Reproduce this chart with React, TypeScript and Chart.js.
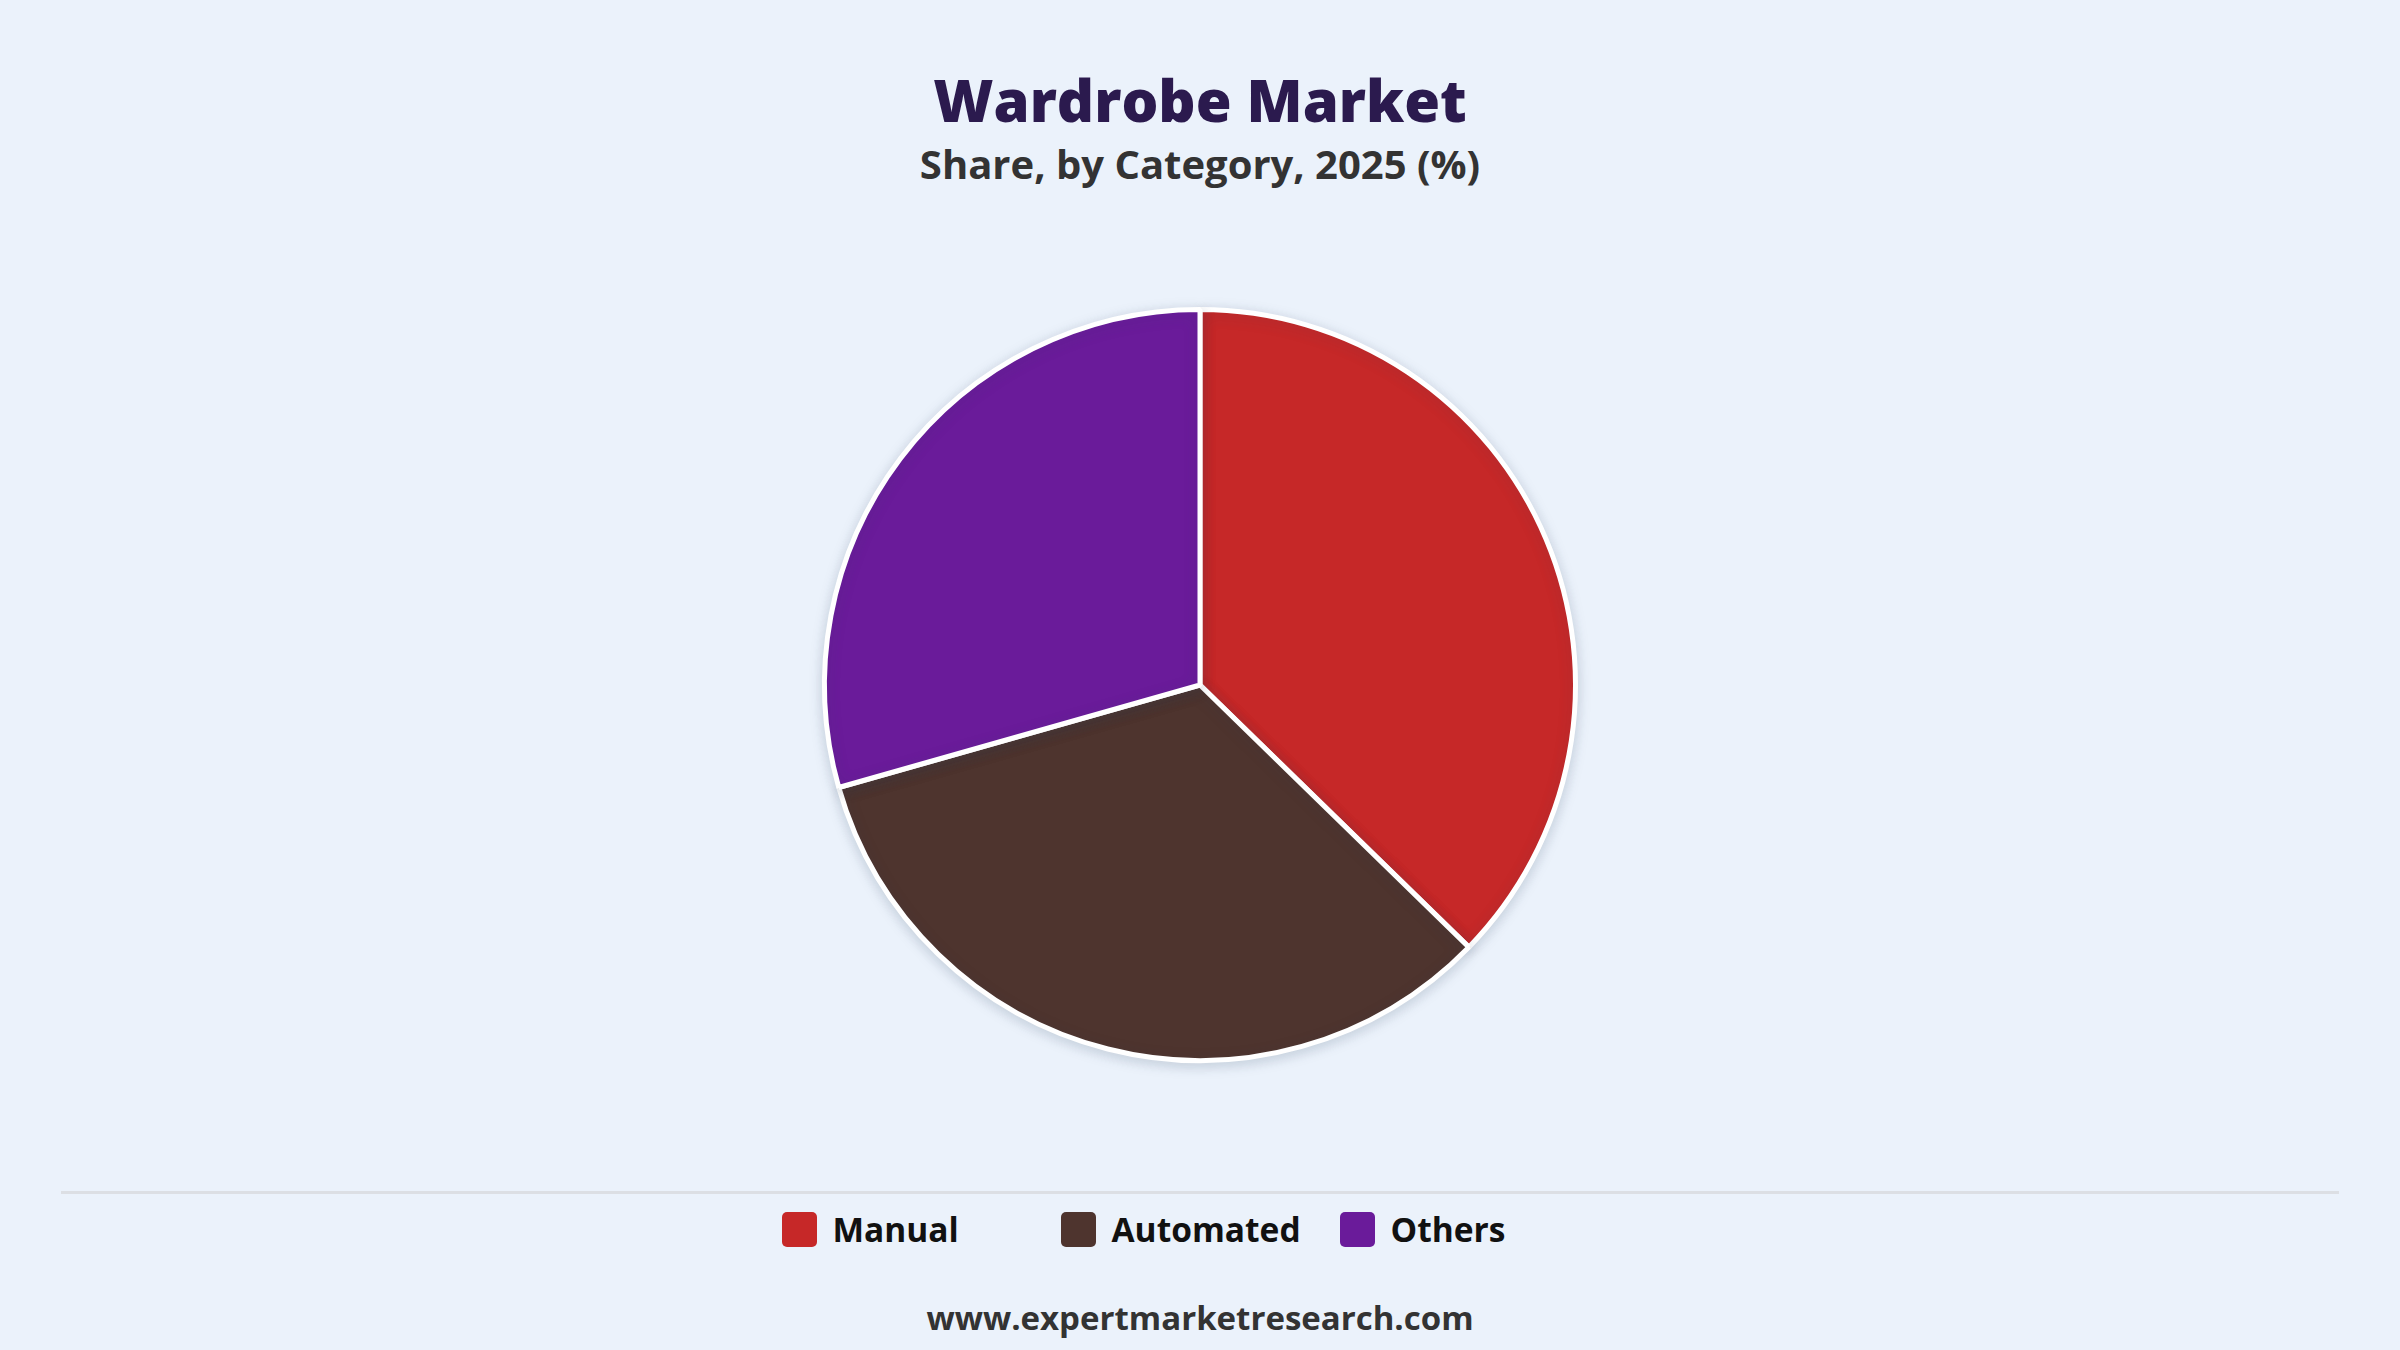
import { useEffect, useRef } from 'react'
import { Chart, registerables, Plugin } from 'chart.js'

Chart.register(...registerables)

const categories = ['Manual', 'Automated', 'Others']
const shares = [37.3, 33.3, 29.4]
const colors = ['#C62828', '#4E342E', '#6A1B9A']

const title = 'Wardrobe Market'
const subtitle = 'Share, by Category, 2025 (%)'
const source = 'www.expertmarketresearch.com'

const FONT = "'Open Sans', 'Noto Sans', sans-serif"

// soft drop shadow under the pie
const shadowPlugin: Plugin<'pie'> = {
  id: 'pieShadow',
  beforeDatasetDraw(chart) {
    const ctx = chart.ctx
    ctx.save()
    ctx.shadowColor = 'rgba(40, 60, 90, 0.18)'
    ctx.shadowBlur = 14
    ctx.shadowOffsetY = 3
  },
  afterDatasetDraw(chart) {
    chart.ctx.restore()
  },
}

function PieChart() {
  const chartRef = useRef<HTMLCanvasElement>(null)
  const chartInstance = useRef<Chart<'pie'> | null>(null)

  useEffect(() => {
    if (!chartRef.current) return
    const ctx = chartRef.current.getContext('2d')
    if (!ctx) return

    if (chartInstance.current) {
      chartInstance.current.destroy()
    }

    chartInstance.current = new Chart(ctx, {
      type: 'pie',
      data: {
        labels: categories,
        datasets: [
          {
            data: shares,
            backgroundColor: colors,
            borderColor: '#FFFFFF',
            borderWidth: 5,
            hoverOffset: 0,
          },
        ],
      },
      options: {
        animation: false,
        responsive: false,
        maintainAspectRatio: false,
        layout: { padding: 22 },
        plugins: {
          legend: { display: false },
          title: { display: false },
          tooltip: { enabled: false },
        },
      },
      plugins: [shadowPlugin],
    })

    return () => {
      if (chartInstance.current) {
        chartInstance.current.destroy()
        chartInstance.current = null
      }
    }
  }, [])

  return (
    <canvas
      ref={chartRef}
      width={2400}
      height={800}
      style={{ position: 'absolute', left: 0, top: 285, width: 2400, height: 800 }}
    ></canvas>
  )
}

export default function App() {
  return (
    <div
      style={{
        position: 'absolute',
        left: 0,
        top: 0,
        width: 2400,
        height: 1350,
        background: '#EBF2FB',
        fontFamily: FONT,
        overflow: 'hidden',
      }}
    >
      <div
        style={{
          position: 'absolute',
          top: 62,
          width: '100%',
          textAlign: 'center',
          fontSize: 58,
          fontWeight: 800,
          color: '#2B1A4E',
          lineHeight: '76px',
        }}
      >
        {title}
      </div>
      <div
        style={{
          position: 'absolute',
          top: 139,
          width: '100%',
          textAlign: 'center',
          fontSize: 40,
          fontWeight: 700,
          color: '#333333',
          lineHeight: '50px',
        }}
      >
        {subtitle}
      </div>

      <PieChart />

      <div
        style={{
          position: 'absolute',
          left: 61,
          top: 1191,
          width: 2278,
          height: 3,
          background: '#DCDFE4',
        }}
      ></div>

      <div
        style={{
          position: 'absolute',
          top: 1207,
          left: 0,
          width: '100%',
          display: 'flex',
          justifyContent: 'center',
        }}
      >
        {categories.map((c, i) => (
          <div
            key={c}
            style={{ width: 279, display: 'flex', alignItems: 'center', height: 44 }}
          >
            <span
              style={{
                width: 35,
                height: 35,
                borderRadius: 5,
                background: colors[i],
                marginRight: 16,
                display: 'inline-block',
              }}
            ></span>
            <span style={{ fontSize: 33.5, fontWeight: 700, color: '#111111' }}>{c}</span>
          </div>
        ))}
      </div>

      <div
        style={{
          position: 'absolute',
          top: 1296,
          width: '100%',
          textAlign: 'center',
          fontSize: 33,
          fontWeight: 700,
          color: '#333333',
          lineHeight: '44px',
        }}
      >
        {source}
      </div>
    </div>
  )
}
